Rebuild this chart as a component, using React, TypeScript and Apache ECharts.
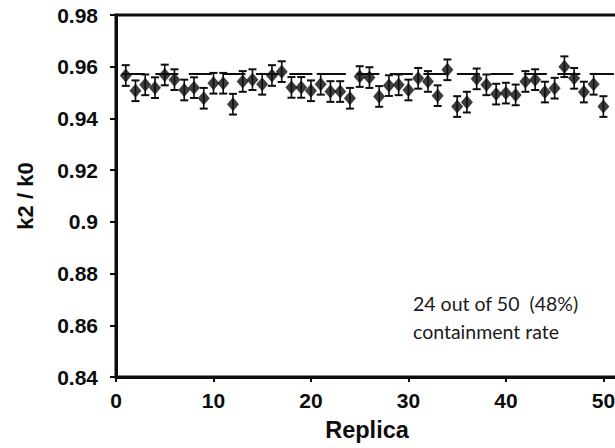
import React, { useEffect, useRef } from "react";
import * as echarts from "echarts";

const replicas = Array.from({ length: 50 }, (_, i) => i + 1);
const k2k0 = [
  0.9566, 0.9507, 0.953, 0.9519, 0.9568, 0.955, 0.951, 0.9519, 0.9478, 0.9536,
  0.9536, 0.9455, 0.9543, 0.955, 0.9532, 0.9566, 0.9581, 0.952, 0.952, 0.9507,
  0.9532, 0.9504, 0.9504, 0.9478, 0.9562, 0.9558, 0.9485, 0.9527, 0.953, 0.951,
  0.9555, 0.9543, 0.9488, 0.9588, 0.9446, 0.9463, 0.9553, 0.953, 0.9494, 0.9498,
  0.9491, 0.9543, 0.955, 0.9502, 0.9517, 0.96, 0.9555, 0.9502, 0.9532, 0.9446,
];
const errors = [
  0.004, 0.004, 0.004, 0.004, 0.004, 0.004, 0.004, 0.004, 0.004, 0.004,
  0.004, 0.004, 0.004, 0.004, 0.004, 0.004, 0.004, 0.004, 0.004, 0.004,
  0.004, 0.004, 0.004, 0.004, 0.004, 0.004, 0.004, 0.004, 0.004, 0.004,
  0.004, 0.004, 0.004, 0.004, 0.004, 0.004, 0.004, 0.004, 0.004, 0.004,
  0.004, 0.004, 0.004, 0.004, 0.004, 0.004, 0.004, 0.004, 0.004, 0.004,
];
const trueValue = 0.9572;
const annotationLines = ["24 out of 50  (48%)", "containment rate"];

export default function App() {
  const ref = useRef<HTMLDivElement>(null);
  useEffect(() => {
    if (!ref.current) return;
    const chart = echarts.init(ref.current, null, { renderer: "svg" });
    const ink = "#0d0d0d";
    const points = replicas.map((x, i) => [x, k2k0[i]]);
    const bars = replicas.map((x, i) => [x, k2k0[i] - errors[i], k2k0[i] + errors[i]]);
    chart.setOption({
      animation: false,
      grid: {
        left: 116,
        top: 15,
        width: 502,
        bottom: 71,
        containLabel: false,
        outerBoundsMode: "none",
        show: true,
        borderColor: ink,
        borderWidth: 3,
      },
      xAxis: {
        type: "value",
        min: 0,
        max: 51.5,
        interval: 10,
        name: "Replica",
        nameLocation: "middle",
        nameGap: 41,
        nameTextStyle: { fontFamily: "Liberation Sans", fontWeight: "bold", fontSize: 23.5, color: ink },
        splitLine: { show: false },
        axisLine: { lineStyle: { color: ink, width: 3 } },
        axisTick: { inside: false, length: 5, lineStyle: { color: ink, width: 2 } },
        axisLabel: {
          showMaxLabel: false,
          hideOverlap: false,
          margin: 13,
          fontFamily: "Liberation Sans",
          fontWeight: "bold",
          fontSize: 21,
          color: ink,
          formatter: (v: number) => (v % 10 === 0 ? String(v) : ""),
        },
      },
      yAxis: {
        type: "value",
        min: 0.84,
        max: 0.98,
        interval: 0.02,
        name: "k2 / k0",
        nameLocation: "middle",
        nameGap: 80,
        nameTextStyle: { fontFamily: "Liberation Sans", fontWeight: "bold", fontSize: 22, color: ink },
        splitLine: { show: false },
        axisLine: { lineStyle: { color: ink, width: 3 } },
        axisTick: { inside: false, length: 6, lineStyle: { color: ink, width: 2 } },
        axisLabel: {
          margin: 18,
          fontFamily: "Liberation Sans",
          fontWeight: "bold",
          fontSize: 21,
          color: ink,
          formatter: (v: number) => String(parseFloat(v.toFixed(2))),
        },
      },
      series: [
        {
          type: "custom",
          data: bars,
          z: 2,
          renderItem: (params: any, api: any) => {
            const x = api.value(0);
            const lo = api.coord([x, api.value(1)]);
            const hi = api.coord([x, api.value(2)]);
            const hw = 4;
            const style = { stroke: ink, lineWidth: 1.6 };
            return {
              type: "group",
              children: [
                { type: "line", shape: { x1: lo[0], y1: lo[1], x2: hi[0], y2: hi[1] }, style },
                { type: "line", shape: { x1: lo[0] - hw, y1: lo[1], x2: lo[0] + hw, y2: lo[1] }, style: { stroke: ink, lineWidth: 2 } },
                { type: "line", shape: { x1: hi[0] - hw, y1: hi[1], x2: hi[0] + hw, y2: hi[1] }, style: { stroke: ink, lineWidth: 2 } },
              ],
            };
          },
        },
        {
          type: "scatter",
          data: points,
          symbol: "diamond",
          symbolSize: [12, 14],
          itemStyle: { color: ink },
          z: 3,
          markLine: {
            silent: true,
            symbol: "none",
            label: { show: false },
            lineStyle: { color: ink, width: 2.2, type: [23, 10.5] },
            data: [[{ coord: [0.6, trueValue] }, { coord: [51.5, trueValue] }]],
          },
        },
      ],
      graphic: [
        {
          type: "text",
          left: 413,
          top: 289,
          style: {
            text: annotationLines.join("\n"),
            font: "19.5px Lato",
            lineHeight: 28,
            fill: "#1a1a1a",
          },
        },
      ],
    });
    return () => chart.dispose();
  }, []);
  return (
    <div
      ref={ref}
      style={{ position: "fixed", left: 0, top: 0, width: 615, height: 448, background: "#fff" }}
    />
  );
}
